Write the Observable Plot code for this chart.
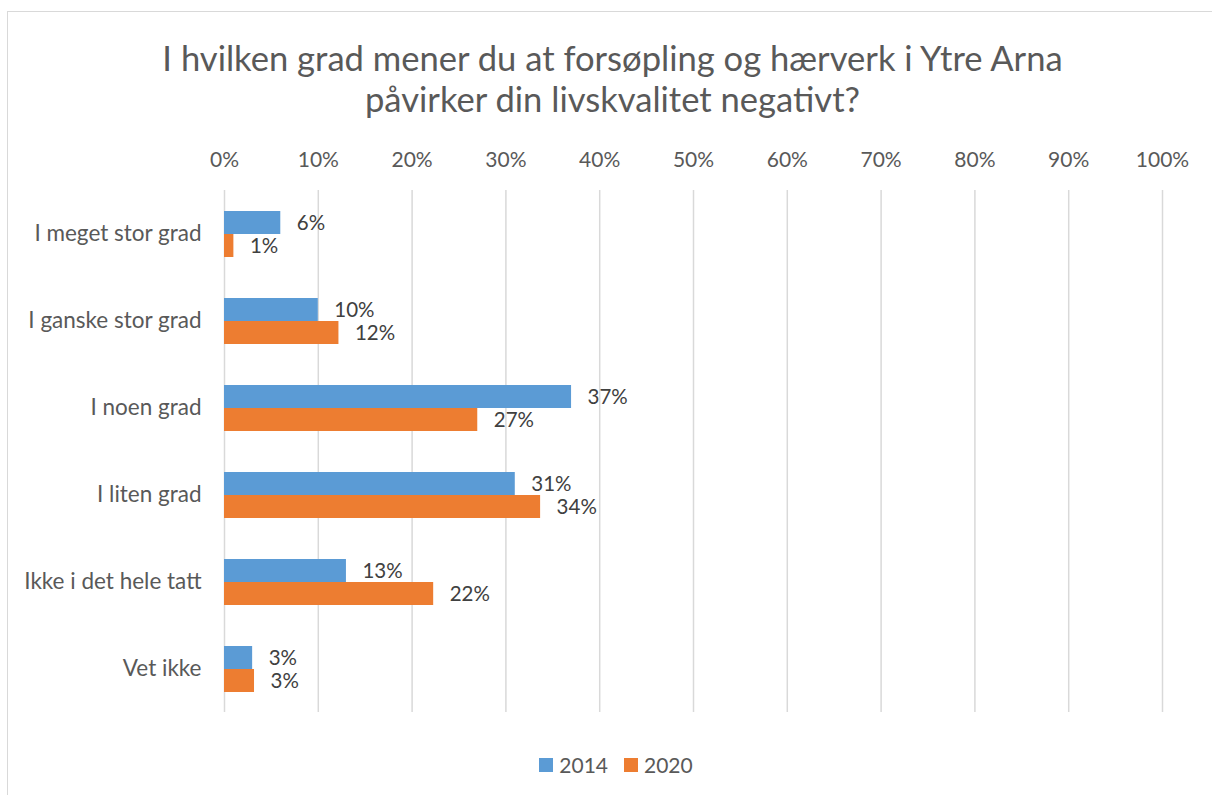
<!DOCTYPE html>
<html><head><meta charset="utf-8">
<script src="https://cdn.jsdelivr.net/npm/d3@7"></script>
<script src="https://cdn.jsdelivr.net/npm/@observablehq/plot@0.6"></script>
<style>
html,body{margin:0;padding:0;background:#fff;overflow:hidden;width:1212px;height:795px;position:relative;}
#frame{position:absolute;left:7px;top:11px;width:1400px;height:1000px;border:1.5px solid #d9d9d9;box-sizing:border-box;}
#title{position:absolute;left:0;width:1225px;top:37px;text-align:center;font-family:Lato,sans-serif;font-size:34.6px;color:#595959;line-height:41px;}
#chart{position:absolute;left:0;top:135px;}
#legend{position:absolute;left:0;width:1232px;top:752px;display:flex;justify-content:center;align-items:center;font-family:Lato,sans-serif;font-size:21px;color:#595959;}
.item{display:flex;align-items:center;margin:0 8px;}
.sw{width:14px;height:14px;margin-right:6px;}
</style>
</head><body>
<div id="frame"></div>
<div id="title">I hvilken grad mener du at forsøpling og hærverk i Ytre Arna<br>påvirker din livskvalitet negativt?</div>
<div id="chart"></div>
<div id="legend"></div>
<script>
const categories = ["I meget stor grad","I ganske stor grad","I noen grad","I liten grad","Ikke i det hele tatt","Vet ikke"];
const series = ["2014","2020"];
const values2014 = [6,10,37,31,13,3];
const values2020 = [1,12.2,27,33.7,22.3,3.2];
const xTicks = [0,10,20,30,40,50,60,70,80,90,100];
const colors = ["#5B9BD5","#ED7D31"];

const data = [];
categories.forEach((c,i)=>{
  data.push({category:c, series:series[0], value:values2014[i]});
  data.push({category:c, series:series[1], value:values2020[i]});
});

const chart = Plot.plot({
  width:1212, height:585,
  marginLeft:224, marginRight:50, marginTop:55, marginBottom:8,
  style:{fontFamily:"Lato, sans-serif", fontSize:"22.5px", color:"#595959", background:"transparent"},
  x:{domain:[0,100], axis:null},
  fy:{domain:categories, padding:0, axis:"left", tickSize:0, tickPadding:23, label:null},
  y:{domain:series, axis:null, paddingInner:0, paddingOuter:0.89},
  color:{domain:series, range:colors},
  marks:[
    Plot.gridX(xTicks, {stroke:"#d9d9d9", strokeOpacity:1, strokeWidth:1.5}),
    Plot.axisX(xTicks, {anchor:"top", tickSize:0, tickPadding:24, tickFormat:d=>d+"%", label:null, fontSize:21}),
    Plot.barX(data, {x:"value", y:"series", fy:"category", fill:"series"}),
    Plot.text(data, {x:"value", y:"series", fy:"category", text:d=>Math.round(d.value)+"%", textAnchor:"start", dx:16, fill:"#404040", fontSize:20.5})
  ]
});
document.getElementById("chart").appendChild(chart);

const leg = document.getElementById("legend");
series.forEach((s,i)=>{
  const it = document.createElement("div"); it.className="item";
  const sw = document.createElement("div"); sw.className="sw"; sw.style.background=colors[i];
  const t = document.createElement("span"); t.textContent=s;
  it.appendChild(sw); it.appendChild(t); leg.appendChild(it);
});
</script>
</body></html>
